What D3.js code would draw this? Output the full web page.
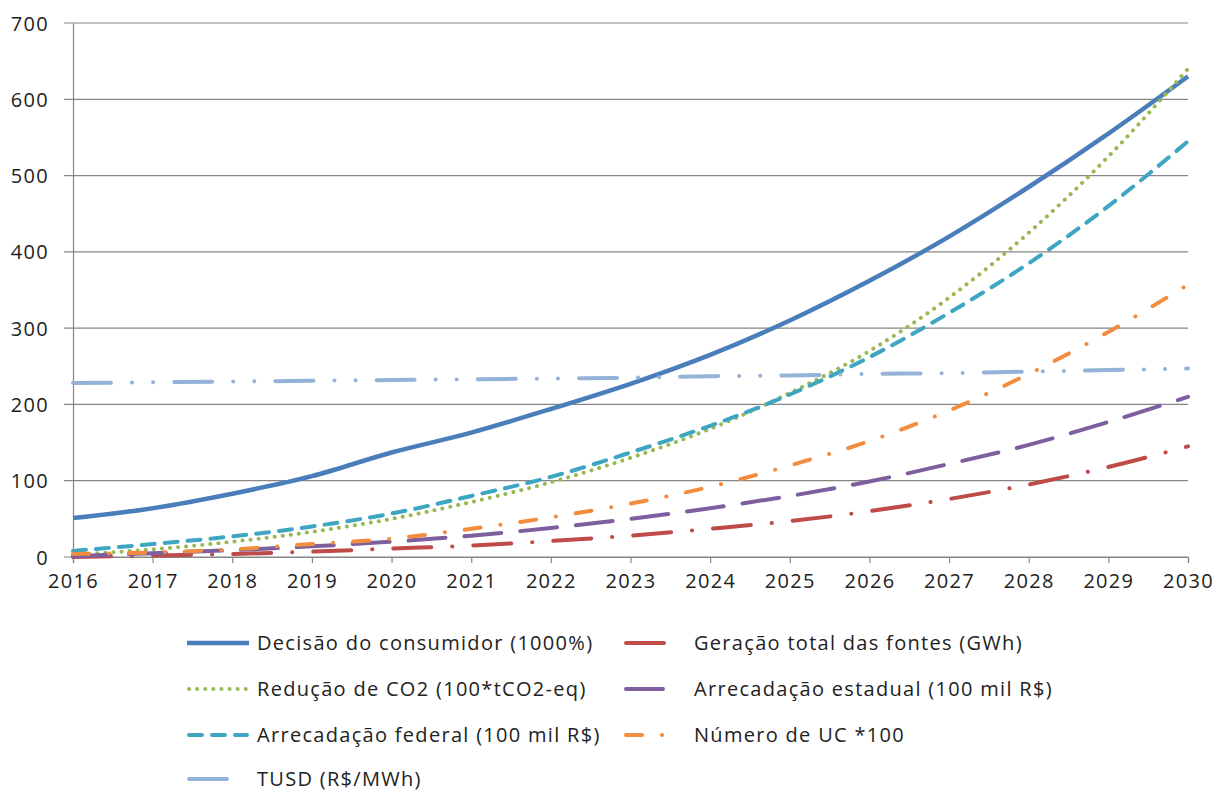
<!DOCTYPE html>
<html>
<head>
<meta charset="utf-8">
<script src="https://cdn.jsdelivr.net/npm/d3@7"></script>
<style>
  body { margin: 0; background: #fff; }
  svg text { font-family: 'Open Sans', sans-serif; fill: #222; letter-spacing: 1.3px; }
</style>
</head>
<body>
<div id="chart"></div>
<script>
const years = [2016, 2017, 2018, 2019, 2020, 2021, 2022, 2023, 2024, 2025, 2026, 2027, 2028, 2029, 2030]
const yTicks = [0, 100, 200, 300, 400, 500, 600, 700]

const decisao = [51, 64, 83, 106, 137, 163, 194, 227, 265, 310, 362, 420, 485, 555, 630]
const geracao = [0, 2, 4, 7, 11, 15, 21, 28, 37, 47, 60, 76, 95, 118, 145]
const reducaoCO2 = [3, 10, 20, 33, 50, 72, 98, 130, 168, 215, 270, 340, 425, 525, 640]
const estadual = [1, 5, 9, 14, 20, 28, 38, 50, 64, 80, 99, 122, 147, 177, 210]
const federal = [8, 17, 27, 40, 57, 80, 105, 137, 172, 213, 262, 320, 385, 460, 545]
const numeroUC = [4, 6, 10, 17, 24, 37, 52, 70, 92, 120, 152, 192, 240, 295, 357]
const tusd = [228, 229, 230, 231, 232, 233, 234, 235, 237, 238, 240, 241, 243, 245, 247]

// key = legend swatch length (the long patterns only show their first dash there)
const series = [
  { name: 'Decisão do consumidor (1000%)', values: decisao, color: '#4A7EBB', width: 4.5, dash: null, key: 62 },
  { name: 'Geração total das fontes (GWh)', values: geracao, color: '#BE4B48', width: 4, dash: '38,21,0.1,21', key: 42 },
  { name: 'Redução de CO2 (100*tCO2-eq)', values: reducaoCO2, color: '#98B954', width: 4, dash: '0.1,8', key: 62 },
  { name: 'Arrecadação estadual (100 mil R$)', values: estadual, color: '#7D5FA0', width: 4, dash: '37,19', key: 42 },
  { name: 'Arrecadação federal (100 mil R$)', values: federal, color: '#3FA6C2', width: 4, dash: '13,10', key: 60 },
  { name: 'Número de UC *100', values: numeroUC, color: '#F28C3E', width: 4, dash: '16,20,0.1,20', key: 42 },
  { name: 'TUSD (R$/MWh)', values: tusd, color: '#95B3D7', width: 4, dash: '38,21,0.1,21,0.1,21', key: 42 }
]

const width = 1216, height = 792
const margin = { top: 23, left: 73, right: 28, bottom: 235 }

const svg = d3.select('#chart').append('svg')
  .attr('width', width)
  .attr('height', height)

const x = d3.scaleLinear()
  .domain([2016, 2030])
  .range([margin.left, width - margin.right])

const y = d3.scaleLinear()
  .domain([0, 700])
  .range([height - margin.bottom, margin.top])

// gridlines
svg.append('g')
  .selectAll('line')
  .data(yTicks)
  .join('line')
  .attr('x1', margin.left - 9)
  .attr('x2', width - margin.right)
  .attr('y1', d => y(d))
  .attr('y2', d => y(d))
  .attr('stroke', '#868686')
  .attr('stroke-width', 1.2)

// y axis
const yAxis = svg.append('g')
  .attr('transform', `translate(${margin.left},0)`)
  .call(d3.axisLeft(y).tickValues(yTicks).tickSize(0).tickPadding(24))
yAxis.select('.domain').attr('stroke', '#868686').attr('stroke-width', 1.2)
yAxis.selectAll('text').attr('font-size', 20).attr('dy', '0.35em')

// x axis
const xAxis = svg.append('g')
  .attr('transform', `translate(0,${y(0)})`)
  .call(d3.axisBottom(x).tickValues(years).tickFormat(d3.format('d')).tickSize(6).tickPadding(11))
xAxis.select('.domain').attr('stroke', '#868686').attr('stroke-width', 1.2)
xAxis.selectAll('line').attr('stroke', '#868686').attr('stroke-width', 1.2)
xAxis.selectAll('text').attr('font-size', 20)

const line = d3.line()
  .x((d, i) => x(years[i]))
  .y(d => y(d))
  .curve(d3.curveMonotoneX)

svg.append('g')
  .selectAll('path')
  .data(series)
  .join('path')
  .attr('d', d => line(d.values))
  .attr('fill', 'none')
  .attr('stroke', d => d.color)
  .attr('stroke-width', d => d.width)
  .attr('stroke-linecap', d => d.dash ? 'round' : 'butt')
  .attr('stroke-dasharray', d => d.dash)

// legend
const legendCols = [187, 624]
const legendRows = [643, 689, 735, 779]
const legend = svg.append('g')
  .selectAll('g')
  .data(series)
  .join('g')
  .attr('transform', (d, i) => `translate(${legendCols[i % 2]},${legendRows[Math.floor(i / 2)]})`)

legend.append('line')
  .attr('x1', d => d.dash ? 2 : 0)
  .attr('x2', d => d.key)
  .attr('stroke', d => d.color)
  .attr('stroke-width', d => d.width)
  .attr('stroke-linecap', d => d.dash ? 'round' : 'butt')
  .attr('stroke-dasharray', d => d.dash)

legend.append('text')
  .attr('x', 70)
  .attr('dy', '0.35em')
  .attr('font-size', 20)
  .text(d => d.name)
</script>
</body>
</html>
